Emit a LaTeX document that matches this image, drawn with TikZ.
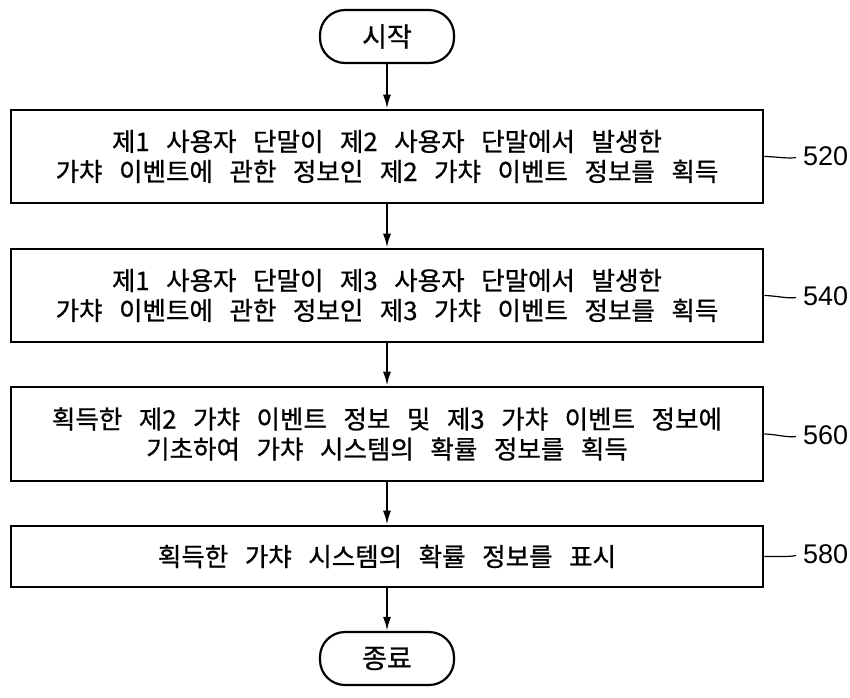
\documentclass[tikz,border=0pt]{standalone}
\usepackage{fontspec}
\usetikzlibrary{arrows.meta}
\newfontfamily\kor[WordSpace=2.9, FakeBold=0.8]{Noto Sans CJK KR}
\newfontfamily\refnum{Liberation Sans}

\begin{document}
\begin{tikzpicture}[x=1pt, y=-1pt,
		terminal/.style={draw, line width=2.2pt, rounded corners=25pt, minimum width=134pt, minimum height=53pt, font=\kor\fontsize{27}{30}\selectfont},
		procbox/.style={draw, line width=2.6pt, minimum width=752pt, align=center, font=\kor\fontsize{25.5}{30}\selectfont},
		reflabel/.style={anchor=west, inner sep=0pt, font=\refnum\fontsize{27}{30}\selectfont},
		flow/.style={-{Latex[length=14pt,width=8pt]}, line width=2pt},
		leader/.style={line width=1.2pt, shorten >=7pt}]

		\useasboundingbox (0,0) rectangle (850,697);

		\node[terminal] (start) at (387,36.5) {시작};

		\node[procbox, minimum height=93pt] (s520) at (387,156.5) {제1 사용자 단말이 제2 사용자 단말에서 발생한\\가챠 이벤트에 관한 정보인 제2 가챠 이벤트 정보를 획득};
		\node[procbox, minimum height=93pt] (s540) at (387,295.5) {제1 사용자 단말이 제3 사용자 단말에서 발생한\\가챠 이벤트에 관한 정보인 제3 가챠 이벤트 정보를 획득};
		\node[procbox, minimum height=94pt] (s560) at (387,434) {획득한 제2 가챠 이벤트 정보 및 제3 가챠 이벤트 정보에\\기초하여 가챠 시스템의 확률 정보를 획득};
		\node[procbox, minimum height=61pt] (s580) at (387,556.5) {획득한 가챠 시스템의 확률 정보를 표시};

		\node[terminal] (end) at (387,658.5) {종료};

		\node[reflabel] (n520) at (803,156) {520};
		\node[reflabel] (n540) at (803,296) {540};
		\node[reflabel] (n560) at (803,435) {560};
		\node[reflabel] (n580) at (803,554) {580};

		\draw[flow] (start) -- (s520);
		\draw[flow] (s520) -- (s540);
		\draw[flow] (s540) -- (s560);
		\draw[flow] (s560) -- (s580);
		\draw[flow] (s580) -- (end);

		\draw[leader] (s520.east) .. controls +(10,0) and +(-14,3) .. (n520.west);
		\draw[leader] (s540.east) .. controls +(10,0) and +(-14,3) .. (n540.west);
		\draw[leader] (s560.east) .. controls +(10,0) and +(-14,3) .. (n560.west);
		\draw[leader] (s580.east) .. controls +(10,0) and +(-14,3) .. (n580.west);
	\end{tikzpicture}
\end{document}
